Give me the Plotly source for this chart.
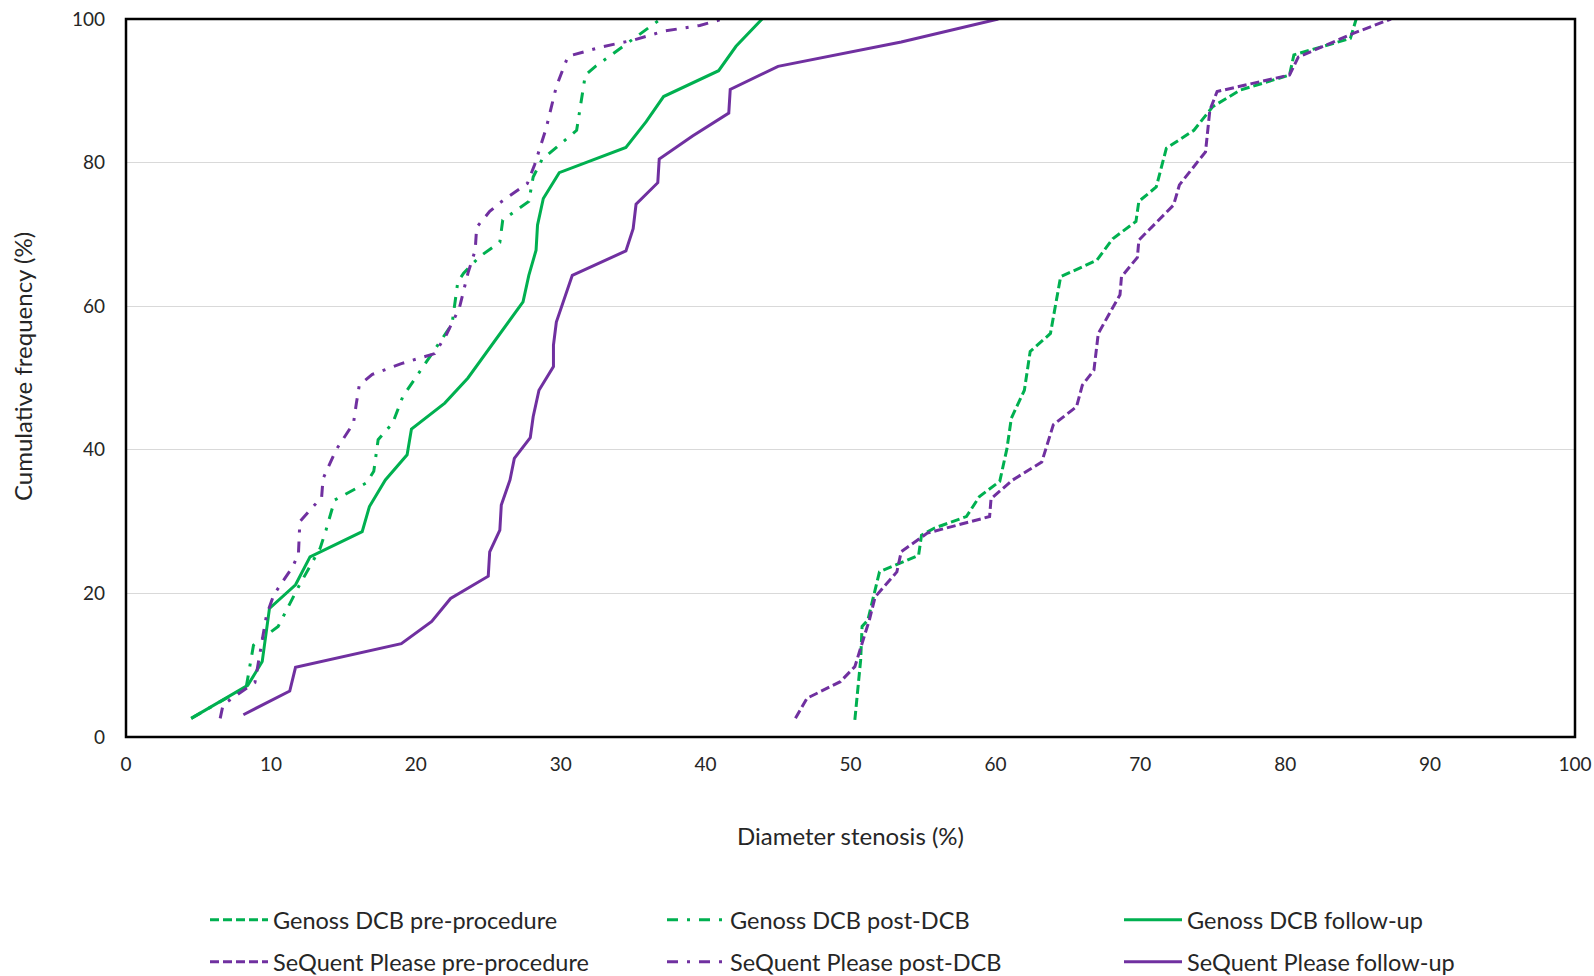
import plotly.graph_objects as go

# ---------------- data ----------------
genoss_pre_x = [50.3, 50.7, 50.8, 51.2, 51.7, 52.0, 54.7, 54.9, 55.8, 58.0, 58.9, 60.3, 60.8, 61.1, 62.0, 62.4,
                63.8, 64.5, 67.0, 68.1, 69.7, 69.9, 71.1, 71.8, 73.7, 75.0, 76.9, 80.3, 80.6, 84.5, 84.9]
genoss_pre_y = [2.4, 10.7, 15.4, 16.3, 20.5, 23.0, 25.3, 28.1, 29.1, 30.7, 33.5, 35.6, 40.2, 44.4, 48.3, 53.7,
                56.2, 64.1, 66.4, 69.4, 71.8, 74.6, 76.6, 82.0, 84.5, 87.8, 90.1, 92.2, 95.0, 97.3, 100]

genoss_post_x = [4.5, 8.3, 8.8, 10.5, 11.9, 13.4, 13.8, 14.4, 16.6, 17.1, 17.4, 18.4, 19.1, 21.9, 22.5, 22.9,
                 23.3, 24.4, 25.8, 26.0, 27.8, 28.1, 28.7, 31.1, 31.7, 32.4, 34.3, 36.9]
genoss_post_y = [2.6, 7.0, 12.8, 15.4, 20.9, 26.3, 28.8, 33.0, 35.4, 37.0, 41.4, 43.7, 47.4, 55.8, 57.5, 63.4,
                 64.6, 66.9, 68.9, 72.0, 74.6, 78.0, 80.4, 84.5, 92.2, 93.4, 96.2, 100]

genoss_fu_x = [4.5, 8.4, 9.4, 9.9, 11.7, 12.7, 16.3, 16.8, 17.9, 19.4, 19.7, 22.0, 23.6, 27.4, 27.8, 28.3,
               28.4, 28.8, 29.9, 34.5, 35.9, 37.1, 40.9, 42.1, 43.9]
genoss_fu_y = [2.6, 7.2, 10.5, 17.9, 21.2, 25.1, 28.6, 32.1, 35.8, 39.3, 42.9, 46.5, 50.0, 60.6, 64.3, 67.8,
               71.3, 75.0, 78.6, 82.1, 85.7, 89.2, 92.8, 96.2, 100]

sequent_pre_x = [46.2, 47.0, 49.3, 50.3, 51.3, 51.7, 53.2, 53.5, 55.3, 59.6, 59.7, 61.2, 63.2, 64.0, 65.6, 66.0,
                 66.8, 67.1, 68.6, 68.7, 69.8, 69.9, 72.3, 72.7, 74.5, 74.8, 75.3, 80.3, 80.9, 84.7, 87.3]
sequent_pre_y = [2.6, 5.4, 7.7, 9.8, 16.3, 19.5, 23.0, 25.8, 28.4, 30.7, 33.2, 35.8, 38.3, 43.5, 46.0, 49.0,
                 51.1, 56.2, 61.6, 64.1, 66.8, 69.2, 74.1, 76.9, 81.5, 87.3, 89.9, 92.2, 94.7, 98.0, 100]

sequent_post_x = [6.5, 6.7, 8.9, 9.3, 9.7, 10.2, 11.5, 11.9, 12.0, 13.5, 13.6, 14.5, 15.7, 15.9, 16.1, 17.0,
                  19.0, 21.3, 22.1, 23.0, 23.6, 24.1, 24.2, 25.1, 25.8, 27.7, 28.2, 29.0, 29.7, 30.5, 32.8,
                  35.1, 37.1, 39.6, 41.2]
sequent_post_y = [2.6, 4.5, 7.6, 12.5, 17.0, 19.8, 23.7, 25.5, 30.0, 33.4, 36.0, 40.0, 43.7, 46.5, 49.0, 50.5,
                  52.0, 53.4, 56.0, 59.7, 64.6, 67.8, 71.0, 73.2, 74.4, 77.1, 79.7, 84.8, 90.6, 94.8, 96.1,
                  97.1, 98.3, 99.1, 100]

sequent_fu_x = [8.1, 11.3, 11.7, 19.0, 21.1, 22.4, 25.0, 25.1, 25.8, 25.9, 26.5, 26.8, 27.9, 28.1, 28.5, 29.5,
                29.5, 29.7, 30.8, 34.5, 35.0, 35.2, 36.7, 36.8, 39.1, 41.6, 41.7, 45.0, 53.5, 60.2]
sequent_fu_y = [3.1, 6.4, 9.7, 13.0, 16.1, 19.3, 22.4, 25.8, 28.8, 32.3, 35.8, 38.8, 41.7, 44.6, 48.3, 51.6,
                54.6, 57.8, 64.3, 67.7, 70.8, 74.2, 77.2, 80.5, 83.7, 86.9, 90.2, 93.4, 96.8, 100]

series_names = ["Genoss DCB pre-procedure", "Genoss DCB post-DCB", "Genoss DCB follow-up",
                "SeQuent Please pre-procedure", "SeQuent Please post-DCB", "SeQuent Please follow-up"]

x_ticks = [0, 10, 20, 30, 40, 50, 60, 70, 80, 90, 100]
y_ticks = [0, 20, 40, 60, 80, 100]
x_title = "Diameter stenosis (%)"
y_title = "Cumulative frequency (%)"

# ---------------- styling ----------------
GREEN = "#00B050"
PURPLE = "#7030A0"
DASH = "9px,4px"
DASHDOT = "11px,9px,3px,9px"
FONT = "Lato"
TXT = "#262626"

W, H = 1594, 976
ML, MR, MT, MB = 126, 19, 19, 239
PW = W - ML - MR
PH = H - MT - MB

series = [
    (genoss_pre_x, genoss_pre_y, GREEN, DASH),
    (genoss_post_x, genoss_post_y, GREEN, DASHDOT),
    (genoss_fu_x, genoss_fu_y, GREEN, "solid"),
    (sequent_pre_x, sequent_pre_y, PURPLE, DASH),
    (sequent_post_x, sequent_post_y, PURPLE, DASHDOT),
    (sequent_fu_x, sequent_fu_y, PURPLE, "solid"),
]

# legend placement (pixel positions of each entry's line start / row centre)
leg_cols_px = [211, 668, 1125]
leg_rows_px = [920, 962]

fig = go.Figure()
legend_layouts = {}
for i, ((xs, ys, col, dash), name) in enumerate(zip(series, series_names)):
    lname = "legend" if i == 0 else f"legend{i + 1}"
    fig.add_trace(go.Scatter(
        x=xs, y=ys, mode="lines", name=name,
        line=dict(color=col, width=3, dash=dash),
        legend=lname, hoverinfo="x+y+name",
    ))
    r, c = divmod(i, 3)
    legend_layouts[lname] = dict(
        x=(leg_cols_px[c] - 6 - ML) / PW,
        y=(MT + PH - leg_rows_px[r]) / PH,
        xanchor="left", yanchor="middle",
        orientation="h",
        itemwidth=58,
        bgcolor="rgba(0,0,0,0)",
        font=dict(family=FONT, size=23.5, color=TXT),
        itemclick=False, itemdoubleclick=False,
    )

fig.update_layout(
    width=W, height=H,
    margin=dict(l=ML, r=MR, t=MT, b=MB, autoexpand=False),
    paper_bgcolor="white", plot_bgcolor="white",
    font=dict(family=FONT, color=TXT),
    showlegend=True,
    **legend_layouts,
)

fig.update_xaxes(
    range=[0, 100], tickvals=x_ticks, ticktext=[str(v) for v in x_ticks],
    showgrid=False, zeroline=False, showline=False, ticks="",
    tickfont=dict(family=FONT, size=19, color=TXT),
    ticklabelstandoff=14, fixedrange=True, automargin=False,
)
fig.update_yaxes(
    range=[0, 100], tickvals=y_ticks, ticktext=[str(v) for v in y_ticks],
    showgrid=True, gridcolor="#D9D9D9", gridwidth=1, zeroline=False,
    showline=False, ticks="",
    tickfont=dict(family=FONT, size=19, color=TXT),
    ticklabelstandoff=20, fixedrange=True, automargin=False,
)

# plot-area frame
fig.add_shape(type="rect", xref="paper", yref="paper", x0=0, y0=0, x1=1, y1=1,
              line=dict(color="black", width=2.5), layer="above")

# axis titles
fig.add_annotation(text=x_title, xref="paper", yref="paper",
                   x=(850 - ML) / PW, y=(MT + PH - 836) / PH,
                   xanchor="center", yanchor="middle", showarrow=False,
                   font=dict(family=FONT, size=24, color=TXT))
fig.add_annotation(text=y_title, xref="paper", yref="paper",
                   x=(22 - ML) / PW, y=(MT + PH - 367) / PH,
                   xanchor="center", yanchor="middle", showarrow=False, textangle=-90,
                   font=dict(family=FONT, size=24, color=TXT))

fig.write_html("out.html", config={"displayModeBar": False})
